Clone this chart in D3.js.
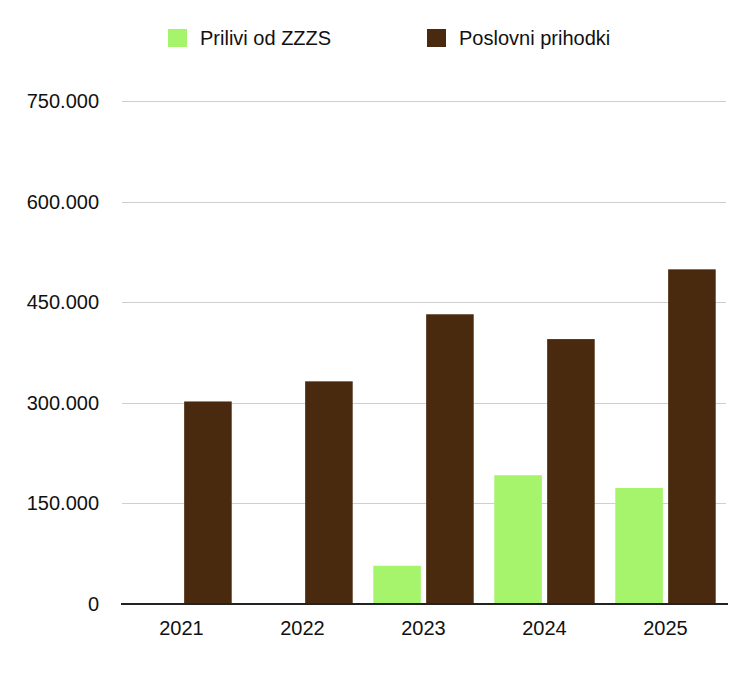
<!DOCTYPE html>
<html>
<head>
<meta charset="utf-8">
<script src="https://cdn.jsdelivr.net/npm/d3@7"></script>
<style>
  html, body { margin: 0; padding: 0; background: #fff; }
  svg text { font-family: "Liberation Sans", Arial, Helvetica, sans-serif; fill: #111; }
</style>
</head>
<body>
<div id="chart"></div>
<script>
// chart data
const years = ["2021", "2022", "2023", "2024", "2025"];
const seriesNames = ["Prilivi od ZZZS", "Poslovni prihodki"];
const priliviZZZS = [0, 0, 57000, 192000, 173000];
const poslovniPrihodki = [302000, 332000, 432000, 395000, 499000];
const yTicks = [0, 150000, 300000, 450000, 600000, 750000];
const colors = ["#a6f46c", "#4a2a0e"];

const width = 750, height = 673;
const margin = { top: 101, right: 24, bottom: 69, left: 121 };

const rows = years.map((y, i) => ({
  year: y,
  values: [priliviZZZS[i], poslovniPrihodki[i]]
}));

const svg = d3.select("#chart")
  .append("svg")
  .attr("width", width)
  .attr("height", height);

const x0 = d3.scaleBand()
  .domain(years)
  .range([margin.left, width - margin.right])
  .paddingInner(0.17)
  .paddingOuter(0.085);

const x1 = d3.scaleBand()
  .domain(d3.range(seriesNames.length))
  .range([0, x0.bandwidth()])
  .paddingInner(0.1);

const y = d3.scaleLinear()
  .domain([0, 750000])
  .range([height - margin.bottom, margin.top]);

const fmt = v => v === 0 ? "0" : d3.format(",")(v).replace(/,/g, ".");

// gridlines
svg.append("g")
  .selectAll("line")
  .data(yTicks.filter(t => t > 0))
  .enter()
  .append("line")
  .attr("x1", margin.left + 1)
  .attr("x2", width - margin.right)
  .attr("y1", d => Math.round(y(d)) + 0.5)
  .attr("y2", d => Math.round(y(d)) + 0.5)
  .attr("stroke", "#cfcfcf")
  .attr("stroke-width", 1);

// y labels
svg.append("g")
  .selectAll("text")
  .data(yTicks)
  .enter()
  .append("text")
  .attr("x", 99)
  .attr("y", d => y(d))
  .attr("dy", "0.35em")
  .attr("text-anchor", "end")
  .style("font-size", "20px")
  .text(fmt);

// bars
const groups = svg.append("g")
  .selectAll("g")
  .data(rows)
  .enter()
  .append("g")
  .attr("transform", d => `translate(${x0(d.year)},0)`);

groups.selectAll("rect")
  .data(d => d.values.map((v, i) => ({ v, i })))
  .enter()
  .append("rect")
  .attr("x", d => x1(d.i))
  .attr("width", x1.bandwidth())
  .attr("y", d => y(d.v))
  .attr("height", d => y(0) - y(d.v))
  .attr("fill", d => colors[d.i]);

// baseline
svg.append("line")
  .attr("x1", margin.left)
  .attr("x2", width - margin.right + 2)
  .attr("y1", y(0))
  .attr("y2", y(0))
  .attr("stroke", "#222")
  .attr("stroke-width", 2);

// x labels
svg.append("g")
  .selectAll("text")
  .data(years)
  .enter()
  .append("text")
  .attr("x", d => x0(d) + x0.bandwidth() / 2)
  .attr("y", y(0) + 31)
  .attr("text-anchor", "middle")
  .style("font-size", "20px")
  .text(d => d);

// legend
const legendX = [168, 427];
const legend = svg.append("g")
  .selectAll("g")
  .data(seriesNames)
  .enter()
  .append("g")
  .attr("transform", (d, i) => `translate(${legendX[i]},29)`);

legend.append("rect")
  .attr("width", 19)
  .attr("height", 18)
  .attr("fill", (d, i) => colors[i]);

legend.append("text")
  .attr("x", 32)
  .attr("y", 16)
  .style("font-size", "20px")
  .text(d => d);
</script>
</body>
</html>
